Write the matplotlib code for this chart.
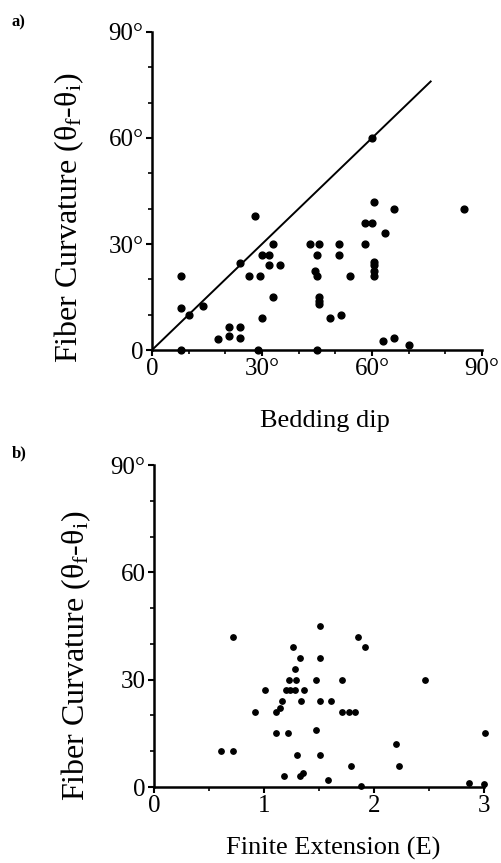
import numpy as np
import matplotlib.pyplot as plt
from matplotlib.ticker import MultipleLocator

plt.rcParams['font.family'] = ['Liberation Serif', 'DejaVu Serif']
plt.rcParams['mathtext.fontset'] = 'custom'
plt.rcParams['mathtext.rm'] = 'Liberation Serif'
plt.rcParams['mathtext.it'] = 'Liberation Serif:italic'

# a) bedding dip vs fiber curvature (degrees)
beddingDip = [8, 8, 10, 14, 8, 28, 24, 26.5, 29.5, 30, 32, 33, 32, 35, 33, 30, 29,
              18, 21, 21, 24, 24, 43, 45.5, 45, 44.5, 45, 45.5, 45.5, 45.5, 45,
              48.5, 51.5, 51, 51, 54, 58, 58, 60, 60.5, 60, 63.5, 66, 60.5, 60.5,
              60.5, 60.5, 63, 66, 70, 85]
curvatureA = [21, 12, 10, 12.5, 0, 38, 24.5, 21, 21, 27, 27, 30, 24, 24, 15, 9, 0,
              3, 4, 6.5, 6.5, 3.5, 30, 30, 27, 22.5, 21, 15, 14, 13, 0,
              9, 10, 30, 27, 21, 30, 36, 36, 42, 60, 33, 40, 25, 24,
              22.5, 21, 2.5, 3.5, 1.5, 40]
lineX = [0, 76]

# b) finite extension vs fiber curvature
finiteExt = [0.72, 1.51, 1.85, 1.92, 1.26, 1.33, 1.51, 1.28, 1.23, 1.29, 1.47, 1.71,
             2.46, 1.01, 1.20, 1.24, 1.28, 1.36, 1.16, 1.34, 1.51, 1.61, 0.92, 1.11,
             1.15, 1.71, 1.77, 1.83, 1.11, 1.22, 1.47, 3.01, 2.20, 0.61, 0.72, 1.30,
             1.51, 1.79, 2.23, 1.18, 1.33, 1.35, 1.58, 1.88, 2.86, 3.00]
curvatureB = [42, 45, 42, 39, 39, 36, 36, 33, 30, 30, 30, 30,
              30, 27, 27, 27, 27, 27, 24, 24, 24, 24, 21, 21,
              22, 21, 21, 21, 15, 15, 16, 15, 12, 10, 10, 9,
              9, 6, 6, 3, 3, 4, 2, 0.4, 1, 0.8]

ticksA = [0, 30, 60, 90]
tickLabelsA = ['0', '30°', '60°', '90°']
tickLabelsBy = ['0', '30', '60', '90°']
ticksBx = [0, 1, 2, 3]

ylab = 'Fiber Curvature (θ$_\\mathrm{f}$-θ$_\\mathrm{i}$)'

fig = plt.figure(figsize=(5.02, 8.63), dpi=100)

def styleAxes(ax):
    for s in ['top', 'right']:
        ax.spines[s].set_visible(False)
    for s in ['left', 'bottom']:
        ax.spines[s].set_linewidth(1.8)
    ax.tick_params(which='major', direction='out', length=4, width=1.5, labelsize=18, pad=2)
    ax.tick_params(which='minor', direction='out', length=3, width=1.2)

# Panel a
ax1 = fig.add_axes([152/502, 1-350/863, 330/502, 318/863])
ax1.plot(lineX, lineX, color='black', linewidth=1.4)
ax1.scatter(beddingDip, curvatureA, s=24, color='black', clip_on=False, zorder=3)
ax1.set_xlim(0, 90)
ax1.set_ylim(0, 90)
ax1.set_xticks(ticksA)
ax1.set_xticklabels(tickLabelsA)
ax1.set_yticks(ticksA)
ax1.set_yticklabels(tickLabelsA)
ax1.xaxis.set_minor_locator(MultipleLocator(10))
ax1.yaxis.set_minor_locator(MultipleLocator(10))
styleAxes(ax1)
ax1.set_xlabel('Bedding dip', fontsize=19)
ax1.xaxis.set_label_coords(0.524, -0.19)
ax1.set_ylabel(ylab, fontsize=23)
ax1.yaxis.set_label_coords(-0.2, 0.415)

# Panel b
ax2 = fig.add_axes([154/502, 1-787/863, 330/502, 322/863])
ax2.scatter(finiteExt, curvatureB, s=15, color='black', clip_on=False, zorder=3)
ax2.set_xlim(0, 3)
ax2.set_ylim(0, 90)
ax2.set_xticks(ticksBx)
ax2.set_yticks(ticksA)
ax2.set_yticklabels(tickLabelsBy)
ax2.xaxis.set_minor_locator(MultipleLocator(0.5))
ax2.yaxis.set_minor_locator(MultipleLocator(10))
styleAxes(ax2)
ax2.set_xlabel('Finite Extension (E)', fontsize=19)
ax2.xaxis.set_label_coords(0.544, -0.155)
ax2.set_ylabel(ylab, fontsize=23)
ax2.yaxis.set_label_coords(-0.185, 0.407)

fig.text(12/502, 1-22/863, 'a)', fontsize=12, fontweight='bold', va='center', ha='left')
fig.text(12/502, 1-453/863, 'b)', fontsize=12, fontweight='bold', va='center', ha='left')

plt.savefig('out.png', dpi=100)
